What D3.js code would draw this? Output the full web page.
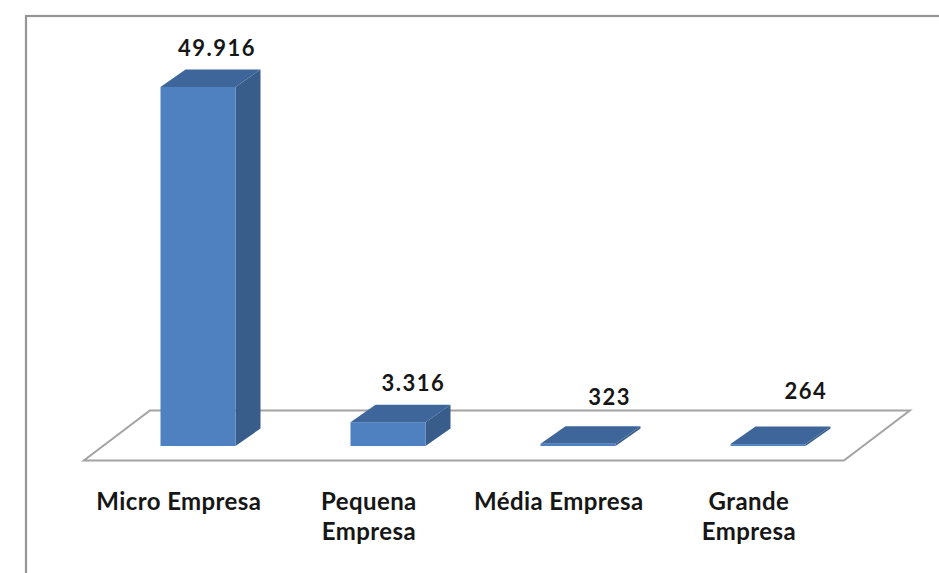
<!DOCTYPE html>
<html>
<head>
<meta charset="utf-8">
<script src="https://cdn.jsdelivr.net/npm/d3@7"></script>
<style>
  html, body { margin: 0; padding: 0; background: #ffffff; }
  svg { display: block; }
  text { font-family: Lato, "Open Sans", sans-serif; font-weight: 700; fill: #161616; }
</style>
</head>
<body>
<svg id="chart" width="939" height="573"></svg>
<script>
// Number of companies by size
const categories = ["Micro Empresa", "Pequena Empresa", "Média Empresa", "Grande Empresa"];
const counts = [49916, 3316, 323, 264];
const yDomain = [0, 60000];

const W = 939, H = 573;
const svg = d3.select("#chart");

// Outer chart frame (runs off the right and bottom edges)
svg.append("rect")
  .attr("x", 26).attr("y", 16)
  .attr("width", W + 20).attr("height", H + 20)
  .attr("fill", "#ffffff")
  .attr("stroke", "#969696").attr("stroke-width", 2.2);

// 3-D geometry
const barFrontY = 446;           // baseline of the bar front faces
const barDepth = { dx: 25, dy: -17.5 };
const floorDepth = { dx: 66, dy: -50 };
const floorFrontY = 460.5;
const floorShift = (floorFrontY - barFrontY) / -floorDepth.dy * floorDepth.dx; // x shift from bar plane to floor front edge
const barW = 75;

const x = d3.scaleBand().domain(categories).range([103, 863]).padding(0);
const y = d3.scaleLinear().domain(yDomain).range([barFrontY, 14.5]);

// Floor of the plot
const [r0, r1] = x.range();
const fl = r0 - floorShift, fr = r1 - floorShift;
svg.append("polygon")
  .attr("points", [
    [fl, floorFrontY], [fr, floorFrontY],
    [fr + floorDepth.dx, floorFrontY + floorDepth.dy],
    [fl + floorDepth.dx, floorFrontY + floorDepth.dy]
  ].map(p => p.join(",")).join(" "))
  .attr("fill", "#ffffff")
  .attr("stroke", "#a3a3a3").attr("stroke-width", 2);

const cx = c => x(c) + x.bandwidth() / 2;

const bars = svg.append("g").selectAll("g.bar")
  .data(categories.map((c, i) => ({ c, v: counts[i], i })))
  .join("g").attr("class", "bar");

// side face
bars.append("polygon")
  .attr("points", d => {
    const x1 = cx(d.c) + barW / 2, yt = y(d.v), yb = y(0);
    return [[x1, yb], [x1 + barDepth.dx, yb + barDepth.dy],
            [x1 + barDepth.dx, yt + barDepth.dy], [x1, yt]].map(p => p.join(",")).join(" ");
  })
  .attr("fill", "#385d8a");

// top face
bars.append("polygon")
  .attr("points", d => {
    const x0 = cx(d.c) - barW / 2, x1 = x0 + barW, yt = y(d.v);
    return [[x0, yt], [x1, yt], [x1 + barDepth.dx, yt + barDepth.dy],
            [x0 + barDepth.dx, yt + barDepth.dy]].map(p => p.join(",")).join(" ");
  })
  .attr("fill", "#3f669a");

// front face
bars.append("rect")
  .attr("x", d => cx(d.c) - barW / 2)
  .attr("y", d => y(d.v))
  .attr("width", barW)
  .attr("height", d => y(0) - y(d.v))
  .attr("fill", "#4f80bf");

// Value labels (pt-BR thousands separator), placed above the back edge of each bar top
const fmt = d3.formatLocale({ decimal: ",", thousands: ".", grouping: [3], currency: ["R$", ""] }).format(",d");
bars.append("text")
  .attr("text-anchor", "middle")
  .attr("font-size", 22)
  .attr("letter-spacing", 1.5)
  .attr("x", d => cx(d.c) + barDepth.dx - 6 + d.i * 6.3)
  .attr("y", d => y(d.v) + barDepth.dy - 14 - Math.max(0, d.i - 1) * 7)
  .text(d => fmt(d.v));

// Category labels along the front edge of the floor, wrapped when too wide
const maxLabelW = 175;
const labels = svg.append("g").selectAll("text.cat")
  .data(categories)
  .join("text").attr("class", "cat")
  .attr("text-anchor", "middle")
  .attr("font-size", 24)
  .attr("letter-spacing", 0.4)
  .attr("x", c => cx(c) - floorShift)
  .attr("y", 510);

labels.each(function () {
  const t = d3.select(this);
  const words = t.datum().split(" ");
  let line = [];
  let tspan = t.append("tspan").attr("x", t.attr("x")).attr("dy", 0);
  words.forEach(w => {
    line.push(w);
    tspan.text(line.join(" "));
    if (tspan.node().getComputedTextLength() > maxLabelW && line.length > 1) {
      line.pop();
      tspan.text(line.join(" "));
      line = [w];
      tspan = t.append("tspan").attr("x", t.attr("x")).attr("dy", 30).text(w);
    }
  });
});
</script>
</body>
</html>
